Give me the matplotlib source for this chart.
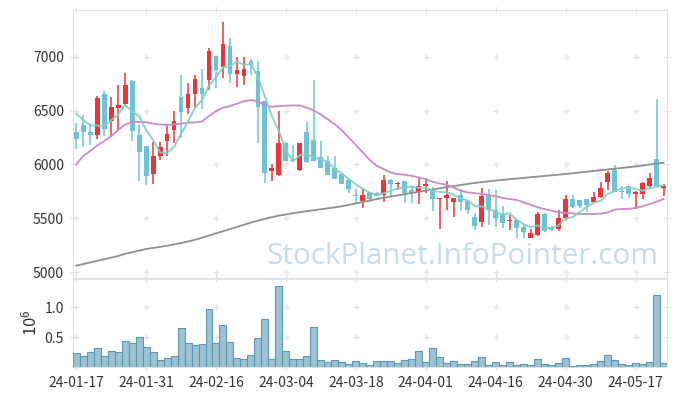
import numpy as np
import pandas as pd
import matplotlib
matplotlib.use('Agg')
import matplotlib.pyplot as plt

plt.rcParams['font.family'] = ['Noto Sans CJK KR', 'DejaVu Sans']

# trading-day tick labels (every 10th bar)
tick_labels = ['24-01-17', '24-01-31', '24-02-16', '24-03-04', '24-03-18',
               '24-04-01', '24-04-16', '24-04-30', '24-05-17']

open_ = [6302, 6367, 6305, 6272, 6656, 6401, 6527, 6564, 6776, 6269,
         6167, 5912, 6078, 6213, 6318, 6627, 6526, 6649, 6710, 6787,
         7003, 6905, 7102, 6843, 6824, 6957, 6871, 6593, 5940, 5904,
         6200, 6045, 5947, 6305, 6222, 6070, 6033, 5965, 5907, 5852,
         5718, 5659, 5743, 5737, 5716, 5860, 5814, 5850, 5758, 5743,
         5798, 5752, 5679, 5688, 5650, 5718, 5663, 5508, 5462, 5703,
         5579, 5542, 5471, 5480, 5419, 5317, 5348, 5542, 5419, 5400,
         5502, 5676, 5673, 5679, 5654, 5694, 5833, 5947, 5746, 5796,
         5725, 5728, 5796, 6054, 5777]
high = [6385, 6459, 6385, 6637, 6681, 6625, 6736, 6852, 6780, 6370,
        6167, 6207, 6207, 6367, 6496, 6831, 6757, 6834, 6886, 7080,
        7003, 7320, 7172, 6997, 6997, 6978, 6963, 6593, 6002, 6495,
        6210, 6180, 6200, 6395, 6785, 6215, 6079, 6080, 5910, 5852,
        5774, 5782, 5746, 5740, 5900, 5862, 5839, 5850, 5795, 5876,
        5873, 5795, 5692, 5842, 5693, 5772, 5668, 5549, 5780, 5771,
        5765, 5610, 5533, 5480, 5440, 5400, 5554, 5545, 5431, 5579,
        5718, 5716, 5673, 5679, 5746, 5839, 5940, 5993, 5796, 5796,
        5756, 5839, 5919, 6603, 5817]
low = [6140, 6164, 6176, 6232, 6263, 6256, 6318, 6533, 6216, 5848,
       5808, 5814, 6038, 6078, 6195, 6248, 6464, 6526, 6510, 6695,
       6710, 6803, 6751, 6720, 6741, 6834, 6202, 5827, 5848, 5894,
       6030, 6025, 5940, 6015, 6030, 5965, 5905, 5868, 5814, 5737,
       5645, 5598, 5648, 5703, 5654, 5703, 5765, 5641, 5641, 5630,
       5734, 5566, 5400, 5579, 5512, 5564, 5542, 5387, 5419, 5440,
       5419, 5409, 5394, 5317, 5317, 5317, 5338, 5369, 5378, 5378,
       5486, 5592, 5592, 5555, 5648, 5685, 5765, 5740, 5679, 5691,
       5586, 5679, 5777, 5802, 5709]
close = [6232, 6299, 6272, 6619, 6330, 6533, 6551, 6736, 6309, 6115,
         5894, 6078, 6164, 6278, 6407, 6486, 6658, 6794, 6658, 7055,
         6880, 7120, 6843, 6880, 6889, 6920, 6535, 5925, 5965, 6200,
         6030, 6030, 6200, 6018, 6030, 5965, 5905, 5868, 5814, 5770,
         5706, 5712, 5680, 5706, 5860, 5814, 5826, 5737, 5737, 5802,
         5820, 5675, 5690, 5718, 5693, 5647, 5579, 5425, 5709, 5579,
         5502, 5456, 5486, 5409, 5369, 5364, 5542, 5378, 5387, 5502,
         5678, 5608, 5611, 5623, 5694, 5777, 5925, 5746, 5740, 5722,
         5740, 5827, 5870, 5802, 5796]
# closes of the 4 sessions before the first bar (for the 5-day average)
prior_close = [6559, 6547, 6619, 6383]

volume = [0.229, 0.184, 0.246, 0.313, 0.180, 0.268, 0.251, 0.435, 0.402, 0.497,
          0.329, 0.251, 0.117, 0.151, 0.184, 0.648, 0.402, 0.369, 0.385, 0.966,
          0.402, 0.704, 0.419, 0.151, 0.134, 0.201, 0.480, 0.799, 0.134, 1.357,
          0.268, 0.134, 0.134, 0.184, 0.664, 0.117, 0.084, 0.117, 0.078, 0.045,
          0.101, 0.061, 0.028, 0.101, 0.101, 0.101, 0.061, 0.117, 0.134, 0.268,
          0.084, 0.318, 0.168, 0.061, 0.101, 0.045, 0.045, 0.101, 0.168, 0.028,
          0.084, 0.028, 0.084, 0.028, 0.045, 0.028, 0.134, 0.045, 0.028, 0.061,
          0.151, 0.011, 0.028, 0.028, 0.045, 0.101, 0.195, 0.117, 0.045, 0.028,
          0.061, 0.045, 0.084, 1.206, 0.061]

ma20 = [6001, 6078, 6124, 6176, 6216, 6262, 6318, 6370, 6392, 6395,
        6392, 6378, 6370, 6368, 6372, 6378, 6387, 6390, 6399, 6449,
        6495, 6526, 6541, 6563, 6587, 6597, 6587, 6547, 6535, 6541,
        6545, 6547, 6547, 6526, 6501, 6464, 6418, 6372, 6316, 6248,
        6181, 6110, 6042, 5987, 5956, 5925, 5910, 5904, 5894, 5879,
        5863, 5839, 5823, 5811, 5786, 5756, 5740, 5734, 5725, 5716,
        5704, 5688, 5679, 5670, 5648, 5626, 5602, 5586, 5571, 5555,
        5549, 5546, 5540, 5540, 5540, 5543, 5555, 5580, 5586, 5588,
        5596, 5611, 5632, 5654, 5679]
ma120 = [5060, 5075, 5090, 5105, 5120, 5135, 5150, 5170, 5185, 5200,
         5215, 5225, 5235, 5245, 5258, 5270, 5285, 5300, 5320, 5340,
         5360, 5380, 5400, 5420, 5440, 5460, 5478, 5495, 5510, 5525,
         5536, 5547, 5557, 5566, 5575, 5584, 5593, 5602, 5612, 5625,
         5638, 5652, 5665, 5678, 5690, 5702, 5713, 5724, 5735, 5746,
         5757, 5768, 5779, 5789, 5799, 5809, 5819, 5828, 5836, 5843,
         5850, 5857, 5863, 5869, 5875, 5881, 5887, 5893, 5899, 5905,
         5911, 5918, 5925, 5932, 5939, 5946, 5953, 5960, 5967, 5974,
         5981, 5990, 5999, 6007, 6015]

RED = '#ec3539'
BLUE = '#6dc2d8'
GRID = '#e4e4e4'

o = np.array(open_, dtype=float)
h = np.array(high, dtype=float)
l = np.array(low, dtype=float)
c = np.array(close, dtype=float)
x = np.arange(len(o))
ma5 = pd.Series(prior_close + close).rolling(5).mean().to_numpy()[len(prior_close):]

fig = plt.figure(figsize=(6.77, 3.96), dpi=100)
ax = fig.add_axes([73 / 677, 1 - 278 / 396, 594 / 677, 268 / 396])
axv = fig.add_axes([73 / 677, 1 - 367 / 396, 594 / 677, 88 / 396], sharex=ax)

colors = np.where(c >= o, RED, BLUE)
ax.vlines(x, l, h, colors=colors, linewidth=1.1, zorder=3)
body = np.maximum(np.abs(c - o), 10)
ax.bar(x, body, bottom=np.minimum(o, c), width=0.7, color=colors, zorder=4)

ax.plot(x, ma120, color='#8f8f8f', lw=1.3, zorder=5)
ax.plot(x, ma20, color='#c98bc9', lw=1.3, zorder=5)
ax.plot(x, ma5, color='#86cdbf', lw=1.4, alpha=0.9, zorder=5)

ax.text(0.655, 0.08, 'StockPlanet.InfoPointer.com', transform=ax.transAxes,
        ha='center', va='center', fontsize=21.4, color='#c8dce7',
        family=['Open Sans', 'DejaVu Sans'], zorder=1)

axv.bar(x, volume, width=1.0, color='#9cc2d4', edgecolor='#5d97b2',
        linewidth=0.8, zorder=3)

xt = x[::10]
yt = [5000, 5500, 6000, 6500, 7000]
vt = [0.5, 1.0]

ax.set_xlim(-0.45, 84.5)
ax.set_ylim(4946, 7433)
axv.set_ylim(0, 1.474)
ax.set_xticks(xt)
ax.set_yticks(yt)
axv.set_yticks(vt)
axv.set_yticklabels(['0.5', '1.0'])
axv.set_xticklabels(tick_labels)

gx, gy = np.meshgrid(xt, yt)
ax.scatter(gx.ravel(), gy.ravel(), marker='+', s=20, color=GRID, linewidths=1, zorder=1)
gx, gy = np.meshgrid(xt, vt)
axv.scatter(gx.ravel(), gy.ravel(), marker='+', s=20, color=GRID, linewidths=1, zorder=1)

for a in (ax, axv):
    for s in a.spines.values():
        s.set_color('#e2e2e2')
    a.tick_params(direction='inout', length=5, color=GRID, labelcolor='#333333',
                  labelsize=10, top=True, right=True, pad=4)
ax.tick_params(labelbottom=False)

axv.set_ylabel('$\\mathregular{10^6}$', fontsize=12, color='#333333')
axv.yaxis.set_label_coords(-0.055, 0.5)

fig.savefig('out.png', dpi=100)
